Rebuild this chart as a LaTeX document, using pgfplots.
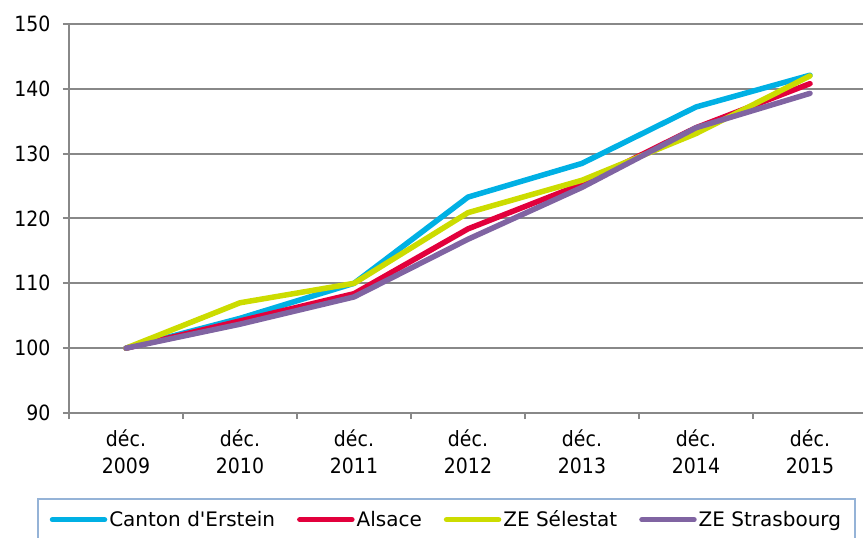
\documentclass[border=0pt]{standalone}
\usepackage{fontspec}
\setmainfont{DejaVu Sans}
\newfontfamily\tickfont{DejaVu Sans}[FakeStretch=0.9]
\usepackage{pgfplots}
\pgfplotsset{compat=1.18}
\definecolor{cblue}{RGB}{0,176,228}
\definecolor{cred}{RGB}{226,0,60}
\definecolor{cyel}{RGB}{204,220,0}
\definecolor{cpur}{RGB}{128,100,162}
\definecolor{axgray}{RGB}{136,136,136}
\definecolor{legbox}{RGB}{149,179,215}
\begin{document}
\begin{tikzpicture}
\begin{axis}[
  at={(0pt,0pt)}, anchor=south west,
  scale only axis, width=794pt, height=389pt,
  xmin=-0.5, xmax=6.465, ymin=90, ymax=150,
  axis x line*=bottom, axis y line*=left,
  axis line style={draw=axgray, line width=2pt},
  ytick={90,100,...,150},
  ymajorgrids, grid style={draw=axgray, line width=2pt},
  xtick={0,...,6},
  xticklabels={{déc.\\2009},{déc.\\2010},{déc.\\2011},{déc.\\2012},{déc.\\2013},{déc.\\2014},{déc.\\2015}},
  xtick style={draw=none},
  extra x ticks={-0.5,0.5,1.5,2.5,3.5,4.5,5.5},
  extra x tick labels={},
  extra x tick style={xtick style={draw=axgray, line width=2pt}, grid=none},
  ytick style={draw=axgray, line width=2pt},
  tick align=outside, major tick length=6pt,
  /pgf/number format/assume math mode=true,
  tick label style={font=\tickfont\fontsize{21}{27}\selectfont, text=black},
  xticklabel style={align=center, yshift=-7pt},
  yticklabel style={xshift=-9pt},
  legend style={at={(rel axis cs:-0.0403,-0.219)}, anchor=north west,
    draw=legbox, line width=1.5pt, inner xsep=12pt, inner ysep=10pt,
    font=\fontsize{20}{24}\selectfont, legend columns=4,
    nodes={inner sep=2pt},
    /tikz/every even column/.append style={column sep=20pt}},
  legend cell align=left,
  legend image code/.code={\draw[#1, line width=5.5pt, line cap=round] (0pt,0pt) -- (52pt,0pt);},
  every axis plot/.append style={line width=5.5pt, line cap=round, line join=round},
]
\addplot[cblue, mark=none] coordinates {(0,100) (1,104.6) (2,110.0) (3,123.3) (4,128.5) (5,137.2) (6,142.1)};
\addlegendentry{Canton d\textquotesingle Erstein}
\addplot[cred, mark=none] coordinates {(0,100) (1,104.2) (2,108.4) (3,118.4) (4,125.3) (5,134.0) (6,140.8)};
\addlegendentry{Alsace}
\addplot[cyel, mark=none] coordinates {(0,100) (1,107.0) (2,110.0) (3,120.9) (4,125.9) (5,133.1) (6,142.0)};
\addlegendentry{ZE Sélestat}
\addplot[cpur, mark=none] coordinates {(0,100) (1,103.7) (2,107.9) (3,116.8) (4,124.8) (5,134.0) (6,139.3)};
\addlegendentry{ZE Strasbourg}
\end{axis}
\pgfresetboundingbox
\useasboundingbox (-69pt,-125pt) rectangle (794pt,413pt);
\end{tikzpicture}
\end{document}
